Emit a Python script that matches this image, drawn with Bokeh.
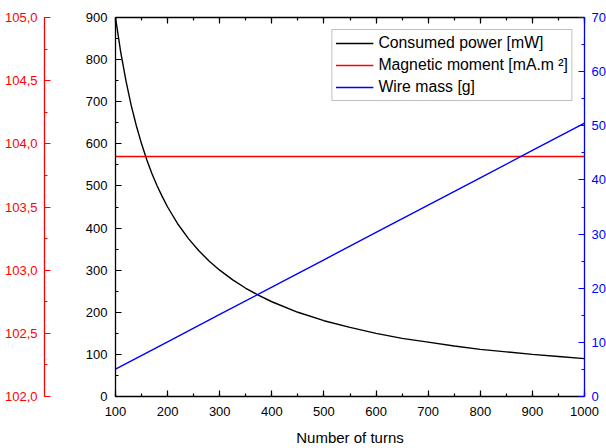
from bokeh.plotting import figure
from bokeh.models import Range1d, LinearAxis, SingleIntervalTicker, CustomJSTickFormatter
from bokeh.embed import file_html
from bokeh.resources import INLINE

# ---- data ----
turns_power = [100, 110, 120, 130, 140, 150, 160, 170, 180, 190, 200, 220, 240, 260, 280, 300,
               325, 350, 375, 400, 450, 500, 550, 600, 650, 700, 750, 800, 850, 900, 950, 1000]
power_mw = [900, 818, 750, 692, 643, 600, 562, 529, 500, 474, 450, 409, 375, 346, 321, 300,
            277, 257, 240, 225, 200, 180, 164, 150, 138, 129, 120, 112, 106, 100, 95, 90]

turns_moment = [100, 1000]
moment_mam2 = [103.9, 103.9]

turns_mass = [100, 200, 300, 400, 500, 600, 700, 800, 900, 1000]
mass_g = [5.05, 10.1, 15.15, 20.2, 25.25, 30.3, 35.35, 40.4, 45.45, 50.5]

labels = ["Consumed power [mW]", "Magnetic moment [mA.m \u00b2]", "Wire mass [g]"]

FONT = "Liberation Sans"
RED = "#ff0000"
BLUE = "#0000ff"

p = figure(frame_width=469, frame_height=379,
           x_range=Range1d(100, 1000), y_range=Range1d(0, 900),
           output_backend="svg", toolbar_location=None,
           min_border_left=115, min_border_right=22, min_border_top=17, min_border_bottom=52)
p.extra_y_ranges = {"red": Range1d(102, 105), "blue": Range1d(0, 70)}
p.xgrid.visible = False
p.ygrid.visible = False
p.outline_line_color = None
p.background_fill_color = "white"


def style_axis(ax, color, label_color):
    ax.axis_line_color = color
    ax.major_tick_line_color = color
    ax.minor_tick_line_color = color
    ax.major_tick_in = 6
    ax.major_tick_out = 0
    ax.minor_tick_in = 3
    ax.minor_tick_out = 0
    ax.major_label_text_color = label_color
    ax.major_label_text_font = FONT
    ax.major_label_text_font_size = "13px"
    ax.axis_line_width = 1.3
    ax.major_tick_line_width = 1.2
    ax.minor_tick_line_width = 1.2


# bottom x axis
xa = p.xaxis[0]
xa.ticker = SingleIntervalTicker(interval=100, num_minor_ticks=2)
style_axis(xa, "black", "black")
xa.major_label_standoff = 10
xa.axis_label = "Number of turns"
xa.axis_label_text_font = FONT
xa.axis_label_text_font_size = "15px"
xa.axis_label_text_font_style = "normal"
xa.axis_label_text_color = "black"
xa.axis_label_standoff = 10

# top axis (ticks only)
ta = LinearAxis(ticker=SingleIntervalTicker(interval=100, num_minor_ticks=2),
                formatter=CustomJSTickFormatter(code="return '';"))
style_axis(ta, "black", "black")
ta.major_label_standoff = 0
p.add_layout(ta, "above")

# inner left black axis
ya = p.yaxis[0]
ya.ticker = SingleIntervalTicker(interval=100, num_minor_ticks=2)
style_axis(ya, "black", "black")
ya.major_label_standoff = 8
ya.axis_label = " "
ya.axis_label_text_font_size = "13px"
ya.axis_label_standoff = 20

# outer left red axis
ra = LinearAxis(y_range_name="red", ticker=SingleIntervalTicker(interval=0.5, num_minor_ticks=2),
                formatter=CustomJSTickFormatter(code="return tick.toFixed(1).replace('.', ',');"))
style_axis(ra, RED, RED)
ra.major_label_standoff = 7
p.add_layout(ra, "left")

# right blue axis
ba = LinearAxis(y_range_name="blue", ticker=SingleIntervalTicker(interval=10, num_minor_ticks=2))
style_axis(ba, BLUE, BLUE)
ba.major_label_standoff = 7
p.add_layout(ba, "right")

# lines
p.line(turns_power, power_mw, color="black", line_width=1.4, legend_label=labels[0])
p.line(turns_moment, moment_mam2, color=RED, line_width=1.4, y_range_name="red", legend_label=labels[1])
p.line(turns_mass, mass_g, color=BLUE, line_width=1.4, y_range_name="blue", legend_label=labels[2])

lg = p.legend[0]
lg.location = "top_right"
lg.margin = 12
lg.padding = 3
lg.spacing = 2
lg.glyph_width = 38
lg.label_standoff = 5
lg.label_text_font = FONT
lg.label_text_font_size = "15.8px"
lg.label_text_color = "black"
lg.border_line_color = "#808080"
lg.border_line_width = 1
lg.background_fill_color = "white"
lg.background_fill_alpha = 1.0

open("out.html", "w").write(file_html(p, INLINE))
